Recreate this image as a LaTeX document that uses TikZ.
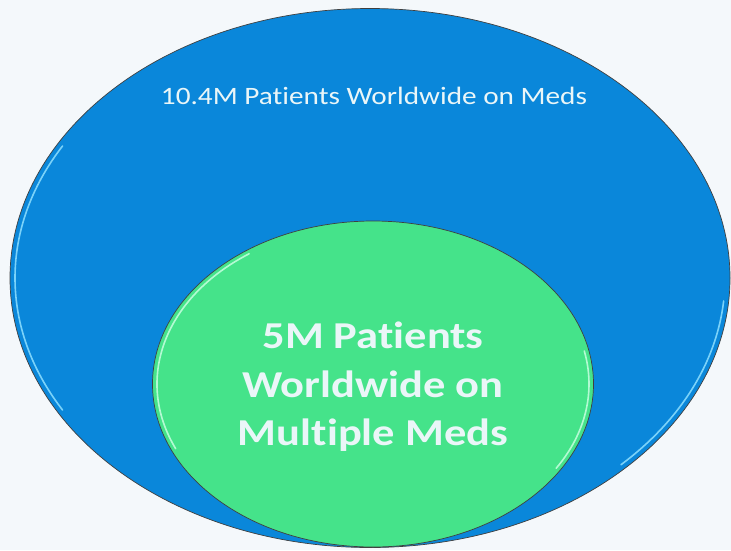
\documentclass[tikz,border=0pt]{standalone}
\usepackage{fontspec}
\setmainfont{Carlito}[FakeStretch=1.17, Ligatures=NoCommon]
\usetikzlibrary{shapes.geometric}
\definecolor{bg}{HTML}{F4F8FB}
\definecolor{outerblue}{HTML}{0A87DA}
\definecolor{innergreen}{HTML}{45E38A}
\definecolor{txt}{HTML}{EAF6F8}
\definecolor{rimblue}{HTML}{8FE0FF}
\definecolor{rimgreen}{HTML}{C8FFE0}
\tikzset{
  circ/.style={ellipse, inner sep=0pt, draw=black!75, line width=0.7pt},
  rim/.style={line width=1.6pt, opacity=0.85, line cap=round},
  lbl/.style={text=txt}
}
\begin{document}
\begin{tikzpicture}[x=1pt,y=-1pt]
\fill[bg] (0,0) rectangle (731,550);
\useasboundingbox (0,0) rectangle (731,550);
\node[circ, fill=outerblue, minimum width=720pt, minimum height=539pt] (outer) at (370,278) {};
\draw[rim, rimblue] (370,278) ++(150:355 and 264) arc[start angle=150, end angle=210, x radius=355, y radius=264];
\draw[rim, rimblue] (370,278) ++(5:355 and 264) arc[start angle=5, end angle=45, x radius=355, y radius=264];
\node[lbl, anchor=base, font=\fontsize{25}{30}\selectfont] (outerlabel) at (374,104) {10.4M Patients Worldwide on Meds};
\node[circ, fill=innergreen, minimum width=441pt, minimum height=326pt] (inner) at (373,384) {};
\node[lbl, align=center, font=\bfseries\fontsize{38}{48.5}\selectfont] (innerlabel) at (373,387) {5M Patients\\Worldwide on\\Multiple Meds};
\draw[rim, rimgreen] (373,384) ++(156:216 and 159) arc[start angle=156, end angle=235, x radius=216, y radius=159];
\draw[rim, rimgreen] (373,384) ++(-12:216 and 159) arc[start angle=-12, end angle=32, x radius=216, y radius=159];
\end{tikzpicture}
\end{document}
